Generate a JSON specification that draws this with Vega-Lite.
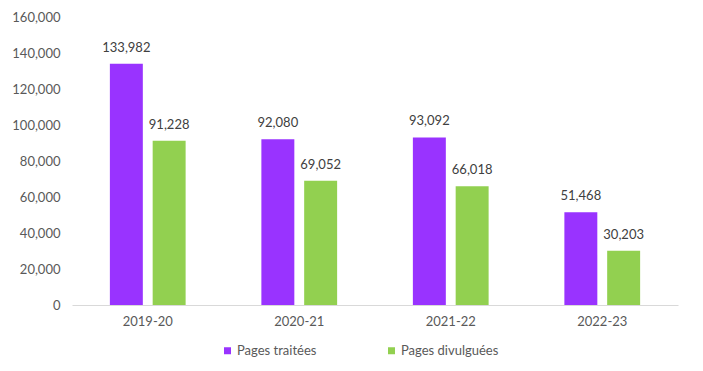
{
  "$schema": "https://vega.github.io/schema/vega-lite/v6.json",
  "width": 606,
  "height": 288,
  "autosize": {"type": "none"},
  "padding": {"left": 72, "top": 17, "right": 25, "bottom": 66},
  "background": "white",
  "config": {
    "font": "Lato",
    "view": {"stroke": null},
    "axis": {"labelFont": "Lato", "labelFontSize": 13, "labelColor": "#595959", "title": null}
  },
  "data": {
    "values": [
      {"annee": "2019-20", "serie": "Pages traitées", "valeur": 133982},
      {"annee": "2019-20", "serie": "Pages divulguées", "valeur": 91228},
      {"annee": "2020-21", "serie": "Pages traitées", "valeur": 92080},
      {"annee": "2020-21", "serie": "Pages divulguées", "valeur": 69052},
      {"annee": "2021-22", "serie": "Pages traitées", "valeur": 93092},
      {"annee": "2021-22", "serie": "Pages divulguées", "valeur": 66018},
      {"annee": "2022-23", "serie": "Pages traitées", "valeur": 51468},
      {"annee": "2022-23", "serie": "Pages divulguées", "valeur": 30203}
    ]
  },
  "encoding": {
    "x": {
      "field": "annee", "type": "nominal",
      "scale": {"paddingInner": 0.5, "paddingOuter": 0.25},
      "axis": {"labelAngle": 0, "ticks": false, "domainColor": "#d9d9d9", "domainWidth": 1, "labelPadding": 10}
    },
    "xOffset": {
      "field": "serie", "type": "nominal",
      "sort": ["Pages traitées", "Pages divulguées"],
      "scale": {"paddingInner": 0.23, "paddingOuter": 0}
    },
    "y": {
      "field": "valeur", "type": "quantitative",
      "scale": {"domain": [0, 160000]},
      "axis": {"values": [0,20000,40000,60000,80000,100000,120000,140000,160000], "labelOverlap": false, "format": ",d", "grid": false, "domain": false, "ticks": false, "labelPadding": 12}
    }
  },
  "layer": [
    {
      "mark": {"type": "bar"},
      "encoding": {
        "color": {
          "field": "serie", "type": "nominal",
          "sort": ["Pages traitées", "Pages divulguées"],
          "scale": {"domain": ["Pages traitées", "Pages divulguées"], "range": ["#9933FF", "#92D050"]},
          "legend": {
            "orient": "none", "legendX": 149, "legendY": 327, "direction": "horizontal", "title": null,
            "symbolType": "square", "symbolSize": 49, "symbolStrokeWidth": 0,
            "labelFont": "Lato", "labelFontSize": 13, "labelColor": "#595959",
            "columnPadding": 68, "labelOffset": 3
          }
        }
      }
    },
    {
      "mark": {"type": "text", "baseline": "bottom", "dy": -9, "font": "Lato", "fontSize": 13, "color": "#404040"},
      "encoding": {
        "text": {"field": "valeur", "type": "quantitative", "format": ",d"}
      }
    }
  ]
}
